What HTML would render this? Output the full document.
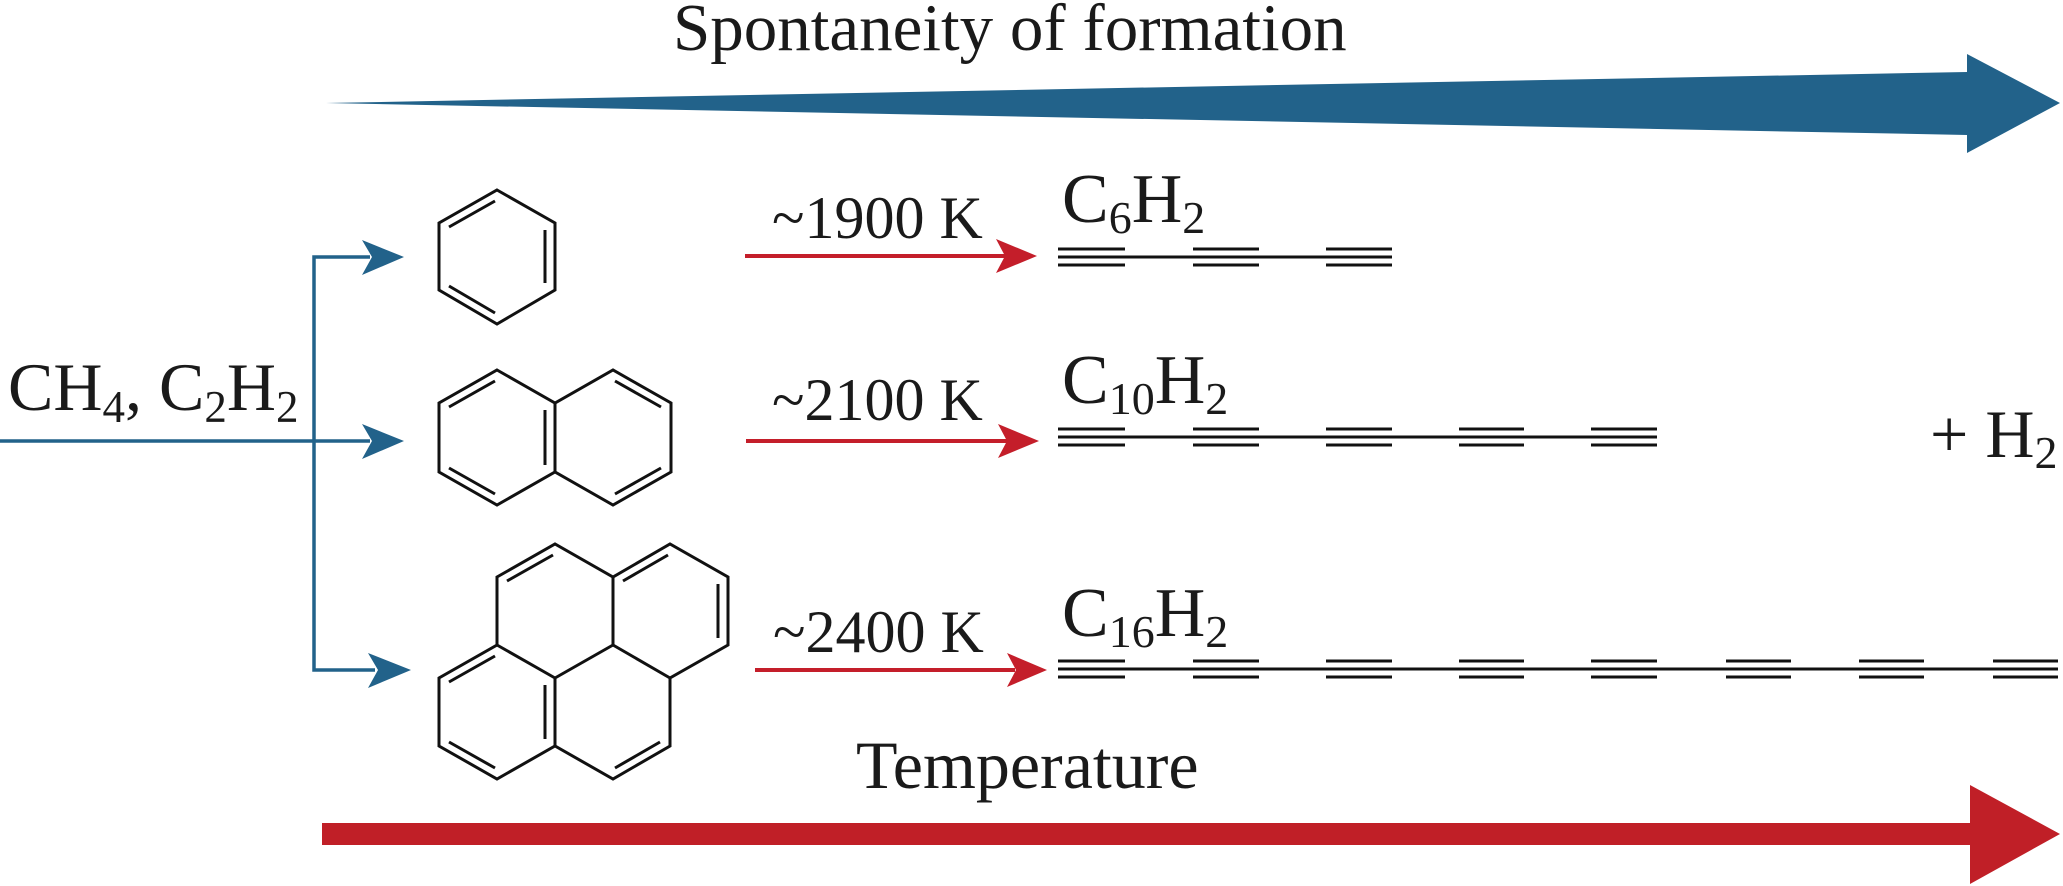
<!DOCTYPE html>
<html><head><meta charset="utf-8"><style>
html,body{margin:0;padding:0;background:#fff;width:2063px;height:886px;overflow:hidden}
svg{display:block}
text{font-family:"Liberation Serif",serif;fill:#1a1a1a}
</style></head><body>
<svg width="2063" height="886" viewBox="0 0 2063 886" xmlns="http://www.w3.org/2000/svg">
<text x="673" y="50" font-size="67">Spontaneity of formation</text>
<polygon points="326,103 1967,72 1967,54 2060,103 1967,153 1967,135" fill="#22628a"/>
<text x="856" y="788" font-size="68">Temperature</text>
<polygon points="322,823 1970,823 1970,785 2060,834 1970,884 1970,845 322,845" fill="#c01f27"/>

<g stroke="#22628a" stroke-width="3.5" fill="none">
<line x1="0" y1="441" x2="370" y2="441"/>
<polyline points="370,257 314,257 314,670 375,670"/>
</g>
<g fill="#22628a">
<polygon points="362,240 404,257 362,275 372,257"/>
<polygon points="362,424 404,441 362,459 372,441"/>
<polygon points="368,653 411,670 368,688 378,670"/>
</g>
<text x="8" y="410" font-size="68">CH<tspan font-size="45" dy="12">4</tspan><tspan dy="-12">, C</tspan><tspan font-size="45" dy="12">2</tspan><tspan dy="-12">H</tspan><tspan font-size="45" dy="12">2</tspan></text>

<g stroke="#111" stroke-width="3" fill="none" stroke-linejoin="miter">
<polygon points="497,190 555,223 555,290 497,324 439,290 439,223"/>
<line x1="449" y1="227" x2="495" y2="201"/>
<line x1="545" y1="230" x2="545" y2="283"/>
<line x1="449" y1="286" x2="495" y2="313"/>
<polygon points="497,370 555,403 613,370 671,403 671,472 613,505 555,472 497,505 439,472 439,403"/>
<line x1="555" y1="403" x2="555" y2="472"/>
<line x1="449" y1="407" x2="495" y2="381"/>
<line x1="449" y1="468" x2="495" y2="494"/>
<line x1="545" y1="410" x2="545" y2="465"/>
<line x1="615" y1="381" x2="661" y2="407"/>
<line x1="615" y1="494" x2="661" y2="468"/>
<polygon points="497,577 555,544 613,577 670,544 728,577 728,645 670,678 670,746 613,779 555,746 497,779 439,746 439,678 497,645"/>
<line x1="613" y1="577" x2="613" y2="645"/>
<line x1="497" y1="645" x2="555" y2="678"/>
<line x1="555" y1="678" x2="613" y2="645"/>
<line x1="613" y1="645" x2="670" y2="678"/>
<line x1="555" y1="678" x2="555" y2="746"/>
<line x1="507" y1="581" x2="553" y2="555"/>
<line x1="623" y1="581" x2="668" y2="555"/>
<line x1="718" y1="584" x2="718" y2="638"/>
<line x1="449" y1="682" x2="495" y2="656"/>
<line x1="449" y1="742" x2="495" y2="768"/>
<line x1="545" y1="685" x2="545" y2="739"/>
<line x1="615" y1="768" x2="660" y2="742"/>
</g>

<g stroke="#c41e2a" stroke-width="4">
<line x1="745" y1="256" x2="1005" y2="256"/>
<line x1="746" y1="441" x2="1007" y2="441"/>
<line x1="755" y1="670" x2="1015" y2="670"/>
</g>
<g fill="#c41e2a">
<polygon points="996,239 1037,256 996,273 1005,256"/>
<polygon points="998,424 1039,441 998,458 1007,441"/>
<polygon points="1007,653 1047,670 1007,687 1016,670"/>
</g>
<text x="772" y="238" font-size="60">~1900 K</text>
<text x="772" y="420" font-size="60">~2100 K</text>
<text x="773" y="652" font-size="60">~2400 K</text>

<text x="1062" y="222" font-size="70">C<tspan font-size="46" dy="11">6</tspan><tspan dy="-11">H</tspan><tspan font-size="46" dy="11">2</tspan></text>
<text x="1062" y="403" font-size="70">C<tspan font-size="46" dy="11">10</tspan><tspan dy="-11">H</tspan><tspan font-size="46" dy="11">2</tspan></text>
<text x="1062" y="636" font-size="70">C<tspan font-size="46" dy="11">16</tspan><tspan dy="-11">H</tspan><tspan font-size="46" dy="11">2</tspan></text>
<text x="1930" y="457" font-size="68">+ H<tspan font-size="46" dy="11">2</tspan></text>

<g stroke="#111" stroke-width="3">
<line x1="1058" y1="257" x2="1392" y2="257"/>
<path d="M1058 249H1125M1058 265H1125M1193 249H1259M1193 265H1259M1326 249H1392M1326 265H1392"/>
<line x1="1058" y1="437" x2="1657" y2="437"/>
<path d="M1058 429H1125M1058 445H1125M1193 429H1259M1193 445H1259M1326 429H1392M1326 445H1392M1459 429H1524M1459 445H1524M1591 429H1657M1591 445H1657"/>
<line x1="1058" y1="669" x2="2058" y2="669"/>
<path d="M1058 661H1125M1058 677H1125M1193 661H1259M1193 677H1259M1326 661H1392M1326 677H1392M1459 661H1524M1459 677H1524M1591 661H1657M1591 677H1657M1726 661H1791M1726 677H1791M1859 661H1924M1859 677H1924M1993 661H2058M1993 677H2058"/>
</g>
</svg>
</body></html>
